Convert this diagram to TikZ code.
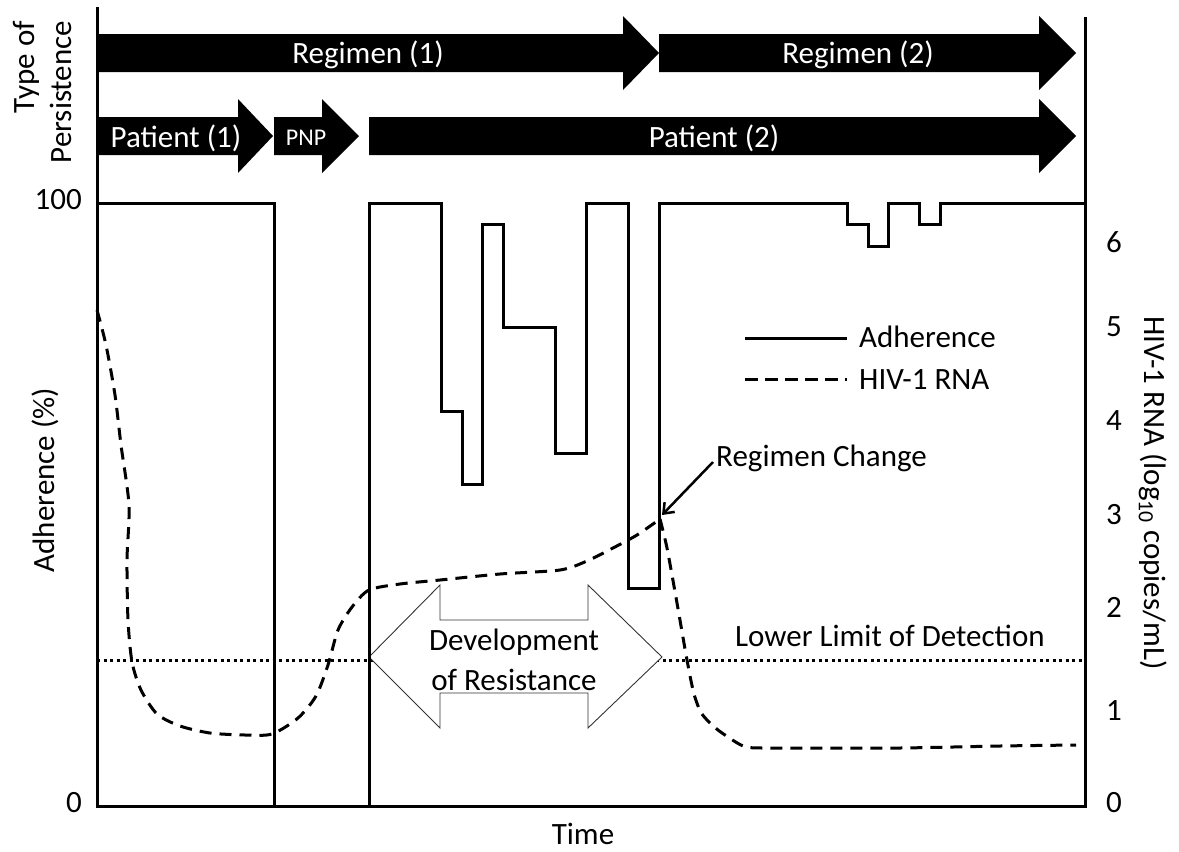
\documentclass[tikz,border=0pt]{standalone}
\usepackage{fontspec}
\setmainfont{Carlito}
\usetikzlibrary{arrows.meta}
\begin{document}
\begin{tikzpicture}[x=1pt,y=-1pt,
  lbl/.style={font=\fontsize{31}{37}\selectfont, inner sep=0pt},
  wlbl/.style={lbl, text=white},
  axisline/.style={line width=3pt},
  adh/.style={line width=3pt, line join=miter},
  rna/.style={line width=3pt, dash pattern=on 12pt off 8pt},
  lod/.style={line width=3pt, dash pattern=on 3pt off 3.5pt},
  blockarrow/.style={fill=black},
  devarrow/.style={fill=white, draw=black!80, line width=0.9pt, line join=miter},
]
\useasboundingbox (0,0) rectangle (1179,852);

% block arrows (type of persistence)
\fill[blockarrow] (97,34) -- (623,34) -- (623,16) -- (659,53) -- (623,90) -- (623,72) -- (97,72) -- cycle;
\fill[blockarrow] (659,34) -- (1039,34) -- (1039,16) -- (1076,53) -- (1039,90) -- (1039,72) -- (659,72) -- cycle;
\fill[blockarrow] (97,117) -- (238,117) -- (238,99) -- (273,136) -- (238,173) -- (238,155) -- (97,155) -- cycle;
\fill[blockarrow] (274,117) -- (322,117) -- (322,99) -- (359,136) -- (322,173) -- (322,155) -- (274,155) -- cycle;
\fill[blockarrow] (369,117) -- (1039,117) -- (1039,99) -- (1076,136) -- (1039,173) -- (1039,155) -- (369,155) -- cycle;
\node[wlbl] (reg1) at (368,55) {Regimen (1)};
\node[wlbl] (reg2) at (858,55) {Regimen (2)};
\node[wlbl] (pat1) at (176,138) {Patient (1)};
\node[wlbl, font=\fontsize{24}{28}\selectfont] (pnp) at (306,138) {PNP};
\node[wlbl] (pat2) at (714,138) {Patient (2)};

% lower limit of detection
\draw[lod] (97,660) -- (1085,660);

% development of resistance double arrow
\filldraw[devarrow] (369,657) -- (440,585) -- (440,620) -- (588,620) -- (588,585) -- (662,657)
  -- (588,728) -- (588,693) -- (440,693) -- (440,728) -- cycle;
\node[lbl, align=center, font=\fontsize{31}{40}\selectfont] (dev) at (514,660) {Development\\of Resistance};

% axes
\draw[axisline] (97,7) -- (97,806) -- (1085,806) -- (1085,17);

% adherence curve
\draw[adh] (97,203) -- (274,203) -- (274,806);
\draw[adh] (369,806) -- (369,203) -- (441,203) -- (441,411) -- (462,411) -- (462,484)
  -- (482,484) -- (482,224) -- (503,224) -- (503,327) -- (555,327) -- (555,453)
  -- (586,453) -- (586,203) -- (628,203) -- (628,588) -- (659,588) -- (659,203)
  -- (847,203) -- (847,224) -- (868,224) -- (868,246) -- (888,246) -- (888,203)
  -- (919,203) -- (919,224) -- (940,224) -- (940,203) -- (1085,203);

% HIV-1 RNA curve
\draw[rna] plot[smooth, tension=0.45] coordinates {(97,310) (106,345) (115,395) (121,445) (129,505)
  (127,560) (128,620) (132,662) (141,690) (157,714) (180,726) (210,733) (245,735) (272,734)
  (298,718) (316,696) (328,665) (338,630) (352,607) (369,590) (400,584) (440,580) (500,574)
  (560,570) (587,561) (613,548) (637,535) (660,519)};
\draw[rna] plot[smooth, tension=0.45] coordinates {(660,519) (667,548) (677,603) (687,660) (694,694)
  (702,714) (718,730) (743,746) (762,748) (800,748) (900,748) (1000,746) (1076,745)};

% legend
\draw[adh] (745,338) -- (847,338);
\node[lbl, anchor=west] (lgadh) at (859,337) {Adherence};
\draw[rna, dash pattern=on 13pt off 7pt] (745,379) -- (847,379);
\node[lbl, anchor=west] (lgrna) at (859,380) {HIV-1 RNA};

% regimen change
\node[lbl, anchor=west] (rc) at (716,458) {Regimen Change};
\coordinate (peak) at (662,515);
\draw[line width=2.5pt, -{Straight Barb[length=9pt,width=14pt]}] (rc.west) ++(-3,4) -- (peak);

\node[lbl, anchor=west] (lld) at (735,636) {Lower Limit of Detection};

% axis ticks labels
\node[lbl, anchor=east] (l100) at (82,200) {100};
\node[lbl, anchor=east] (l0) at (82,803) {0};
\node[lbl] (r6) at (1114,242) {6};
\node[lbl] (r5) at (1114,327) {5};
\node[lbl] (r4) at (1114,421) {4};
\node[lbl] (r3) at (1114,515) {3};
\node[lbl] (r2) at (1114,607) {2};
\node[lbl] (r1) at (1114,711) {1};
\node[lbl] (r0) at (1114,803) {0};

% axis titles
\node[lbl, rotate=90, align=right] (tp) at (42,92) {Type of\\Persistence};
\node[lbl, rotate=90] (adhlbl) at (45,480) {Adherence (\%)};
\node[lbl, rotate=-90] (rnalbl) at (1153,493) {HIV-1 RNA (log\textsubscript{10} copies/mL)};
\node[lbl] (time) at (583,834) {Time};
\end{tikzpicture}
\end{document}
